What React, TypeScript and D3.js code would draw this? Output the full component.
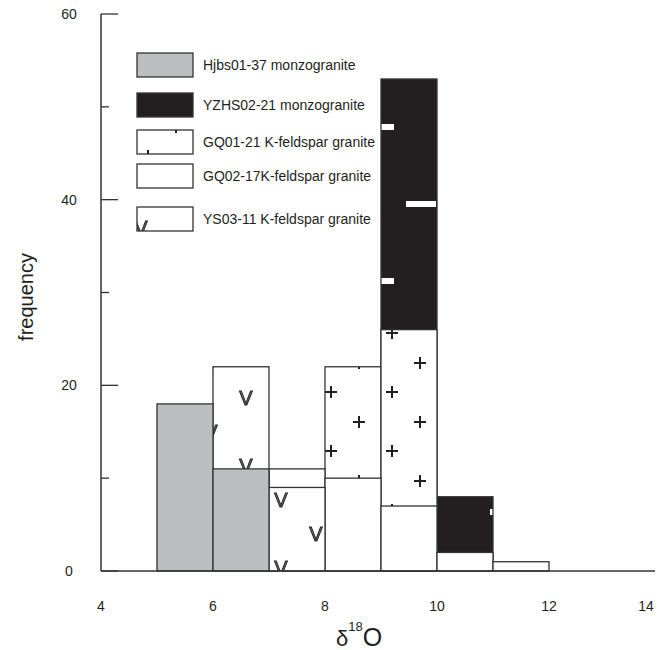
import React from "react";
import { scaleLinear } from "d3";

// bin lower edges (width 1)
const binStarts = [5, 6, 7, 8, 9, 10, 11];
const hjbs = [18, 11, 0, 0, 0, 0, 0];
const yzhs = [0, 0, 0, 0, 53, 8, 0];
const gq01 = [0, 0, 0, 22, 26, 0, 0];
const gq02 = [0, 0, 11, 10, 7, 2, 1];
const ys03 = [0, 22, 9, 0, 0, 0, 0];

const xTicks = [4, 6, 8, 10, 12, 14];
const yTicks = [0, 10, 20, 30, 40, 50, 60];
const yLabels = [0, 20, 40, 60];

const legendNames = [
  "Hjbs01-37 monzogranite",
  "YZHS02-21 monzogranite",
  "GQ01-21 K-feldspar granite",
  "GQ02-17K-feldspar granite",
  "YS03-11 K-feldspar granite",
];

const FONT = "'Liberation Sans', Arial, sans-serif";
const INK = "#231f20";
const EDGE = "#333";

export default function App() {
  const x = scaleLinear().domain([4, 14]).range([101, 661]);
  const y = scaleLinear().domain([0, 60]).range([571, 14]);

  // draw order: tallest series behind
  const series = [
    { key: "yzhs", values: yzhs, fill: "url(#dashPat)" },
    { key: "gq01", values: gq01, fill: "url(#plusPat)" },
    { key: "gq02", values: gq02, fill: "#fff" },
    { key: "ys03", values: ys03, fill: "url(#vPat)" },
    { key: "hjbs", values: hjbs, fill: "#bcbec0" },
  ];
  const legendFills = ["#bcbec0", "url(#dashPat)", "url(#plusPat)", "#fff", "url(#vPat)"];
  const legendTop = [53, 93, 130, 164, 207];

  const corners = (w: number, h: number, mid: [number, number]) => [
    [0, 0], [w, 0], [0, h], [w, h], mid,
  ];

  return (
    <svg
      width={663}
      height={650}
      style={{ position: "absolute", left: 0, top: 0, background: "#fff" }}
      fontFamily={FONT}
    >
      <defs>
        <pattern id="vPat" patternUnits="userSpaceOnUse" x={211} y={364} width={70} height={68}>
          <rect width={70} height={68} fill="#fff" />
          {corners(70, 68, [35, 34]).map(([cx, cy], i) => (
            <text key={i} x={cx} y={cy + 7} textAnchor="middle" fontSize={20}
              fill="#6a6a6a" stroke="#222" strokeWidth={0.9}>V</text>
          ))}
        </pattern>
        <pattern id="plusPat" patternUnits="userSpaceOnUse" x={331} y={392} width={61} height={59}>
          <rect width={61} height={59} fill="#fff" />
          {corners(61, 59, [28, 30]).map(([cx, cy], i) => (
            <path key={i} d={`M${cx - 6},${cy}H${cx + 6}M${cx},${cy - 6}V${cy + 6}`}
              stroke={INK} strokeWidth={2} />
          ))}
        </pattern>
        <pattern id="dashPat" patternUnits="userSpaceOnUse" x={379} y={127} width={84} height={154}>
          <rect width={84} height={154} fill={INK} />
          {corners(84, 154, [42, 77]).map(([cx, cy], i) => (
            <rect key={i} x={cx - 15} y={cy - 3} width={30} height={6} fill="#fff" />
          ))}
        </pattern>
      </defs>

      {/* bars */}
      {series.map((s) => (
        <g key={s.key}>
          {s.values.map((v, i) =>
            v > 0 ? (
              <rect
                key={i}
                x={x(binStarts[i])}
                y={y(v)}
                width={x(binStarts[i] + 1) - x(binStarts[i])}
                height={y(0) - y(v)}
                fill={s.fill}
                stroke={EDGE}
                strokeWidth={1.3}
              />
            ) : null
          )}
        </g>
      ))}

      {/* axes */}
      <line x1={x(4)} x2={655} y1={y(0)} y2={y(0)} stroke={EDGE} strokeWidth={1.5} />
      <line x1={x(4)} x2={x(4)} y1={y(60)} y2={y(0)} stroke={EDGE} strokeWidth={1.5} />
      {yTicks.map((t) => (
        <line key={t} x1={x(4)} x2={x(4) + (yLabels.includes(t) ? 17 : 8)}
          y1={y(t)} y2={y(t)} stroke={EDGE} strokeWidth={1.3} />
      ))}
      {yLabels.map((t) => (
        <text key={t} x={69} y={y(t)} dy="0.35em" textAnchor="middle" fontSize={14} fill={INK}>{t}</text>
      ))}
      {xTicks.map((t) => (
        <text key={t} x={Math.min(x(t), 646)} y={606} dy="0.35em" textAnchor="middle" fontSize={14} fill={INK}>{t}</text>
      ))}

      {/* axis titles */}
      <text transform="translate(33,297) rotate(-90)" textAnchor="middle" fontSize={20} fill={INK}>frequency</text>
      <text x={336} y={646} fill={INK}>
        <tspan fontSize={22}>δ</tspan>
        <tspan fontSize={13} dy={-15}>18</tspan>
        <tspan fontSize={25} dy={15}>O</tspan>
      </text>

      {/* legend */}
      {legendNames.map((name, i) => (
        <g key={name}>
          <rect x={137} y={legendTop[i]} width={56} height={24} fill={legendFills[i]} stroke={EDGE} strokeWidth={1.3} />
          <text x={203} y={legendTop[i] + 12} dy="0.35em" fontSize={14} fill={INK}>{name}</text>
        </g>
      ))}
    </svg>
  );
}
